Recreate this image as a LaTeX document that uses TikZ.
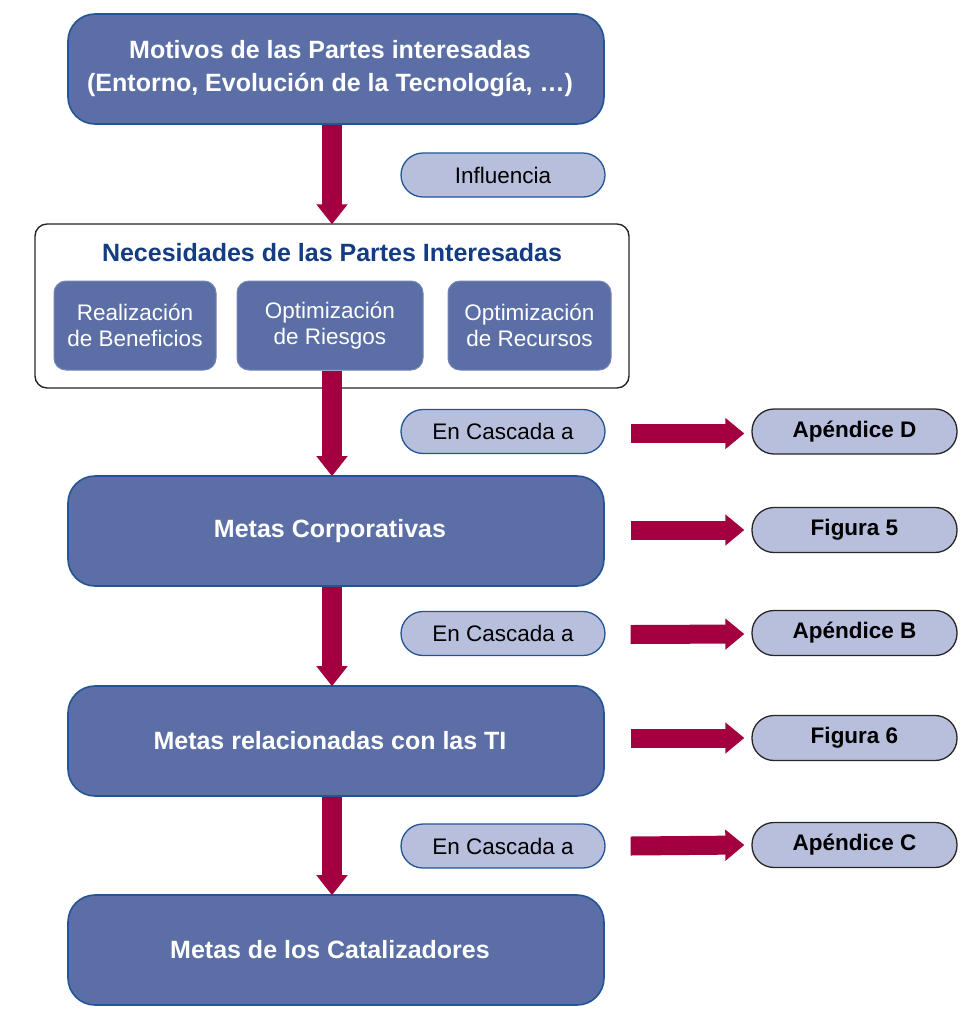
\documentclass[tikz,border=0pt]{standalone}
\usepackage{fontspec}
\setmainfont{Liberation Sans}
\usetikzlibrary{arrows.meta}
\definecolor{boxblue}{RGB}{91,111,166}
\definecolor{boxedge}{RGB}{34,84,150}
\definecolor{pillfill}{RGB}{184,191,221}
\definecolor{arrred}{RGB}{163,0,64}
\definecolor{titleblue}{RGB}{20,60,130}
\newcommand{\lsh}{\hspace*{12pt}}
\tikzset{
  mainbox/.style={draw=boxedge, line width=1.6pt, fill=boxblue, rounded corners=27pt,
    minimum width=536pt, minimum height=110pt, text=white, font=\fontsize{25}{33}\selectfont\bfseries, align=center},
  subbox/.style={draw=boxblue!85!white, line width=1pt, fill=boxblue, rounded corners=12pt,
    minimum height=89pt, text=white, font=\fontsize{22.5}{26.5}\selectfont, align=center},
  outerbox/.style={draw=black!85, line width=1.4pt, fill=white, rounded corners=12pt},
  pill/.style={draw=boxedge, line width=1.3pt, fill=pillfill, rounded corners=22pt,
    minimum width=204pt, minimum height=44pt, font=\fontsize{22.5}{26}\selectfont},
  apill/.style={draw=black!85, line width=1.3pt, fill=pillfill, rounded corners=22pt,
    minimum width=205pt, minimum height=45pt, font=\fontsize{22.5}{26}\selectfont\bfseries},
  varrow/.style={draw=arrred, line width=20pt, -{Triangle[width=30pt,length=20pt]}, arrred},
  harrow/.style={draw=arrred, line width=19pt, -{Triangle[width=30pt,length=19pt]}, arrred},
}
\begin{document}
\begin{tikzpicture}[x=1pt,y=-1pt]
\useasboundingbox (0,0) rectangle (975,1013);
\coordinate (ax) at (332,0);
% main boxes
\node[mainbox] (motivos) at (336,69) {Motivos de las Partes interesadas\lsh\\(Entorno, Evolución de la Tecnología, …)\lsh};
\node[outerbox, minimum width=594pt, minimum height=164pt] (nec) at (332,306) {};
\node[text=titleblue, font=\fontsize{25}{28}\selectfont\bfseries] (nectitle) at (332,253) {Necesidades de las Partes Interesadas};
\node[subbox, minimum width=162pt] (sa) at (135,325.5) {Realización\\de Beneficios};
\node[subbox, minimum width=186pt] (sb) at (330,325.5) {Optimización\\de Riesgos};
\node[subbox, minimum width=163pt] (sc) at (529.5,325.5) {Optimización\\de Recursos};
\node[mainbox] (corp) at (336,531) {Metas Corporativas\lsh};
\node[mainbox] (ti) at (336,741) {Metas relacionadas con las TI\lsh};
\node[mainbox] (cat) at (336,950) {Metas de los Catalizadores\lsh};
% pills
\node[pill] (infl) at (503,175) {Influencia};
\node[pill] (casc1) at (503,431.5) {En Cascada a};
\node[pill] (casc2) at (503,633.5) {En Cascada a};
\node[pill] (casc3) at (503,846) {En Cascada a};
\node[apill] (appD) at (854.5,431.5) {Apéndice D};
\node[apill] (fig5) at (854.5,530) {Figura 5};
\node[apill] (appB) at (854.5,633) {Apéndice B};
\node[apill] (fig6) at (854.5,738) {Figura 6};
\node[apill] (appC) at (854.5,845) {Apéndice C};
% vertical arrows
\draw[varrow] (motivos.south -| ax) -- ([yshift=-1pt]nec.north -| ax);
\draw[varrow] (sb.south -| ax) -- ([yshift=-1pt]corp.north -| ax);
\draw[varrow] (corp.south -| ax) -- ([yshift=-1pt]ti.north -| ax);
\draw[varrow] (ti.south -| ax) -- ([yshift=-1pt]cat.north -| ax);
% horizontal arrows
\draw[harrow] ([xshift=25pt,yshift=-2pt]casc1.east) -- ([xshift=-7pt,yshift=-2pt]appD.west);
\draw[harrow] ([xshift=26pt]corp.east |- fig5.west) -- ([xshift=-7pt]fig5.west);
\draw[harrow] ([xshift=25pt,yshift=-1pt]casc2.east) -- ([xshift=-7pt,yshift=-1pt]appB.west);
\draw[harrow] ([xshift=26pt]ti.east |- fig6.west) -- ([xshift=-7pt]fig6.west);
\draw[harrow] ([xshift=25pt]casc3.east) -- ([xshift=-7pt]appC.west);
\end{tikzpicture}
\end{document}
